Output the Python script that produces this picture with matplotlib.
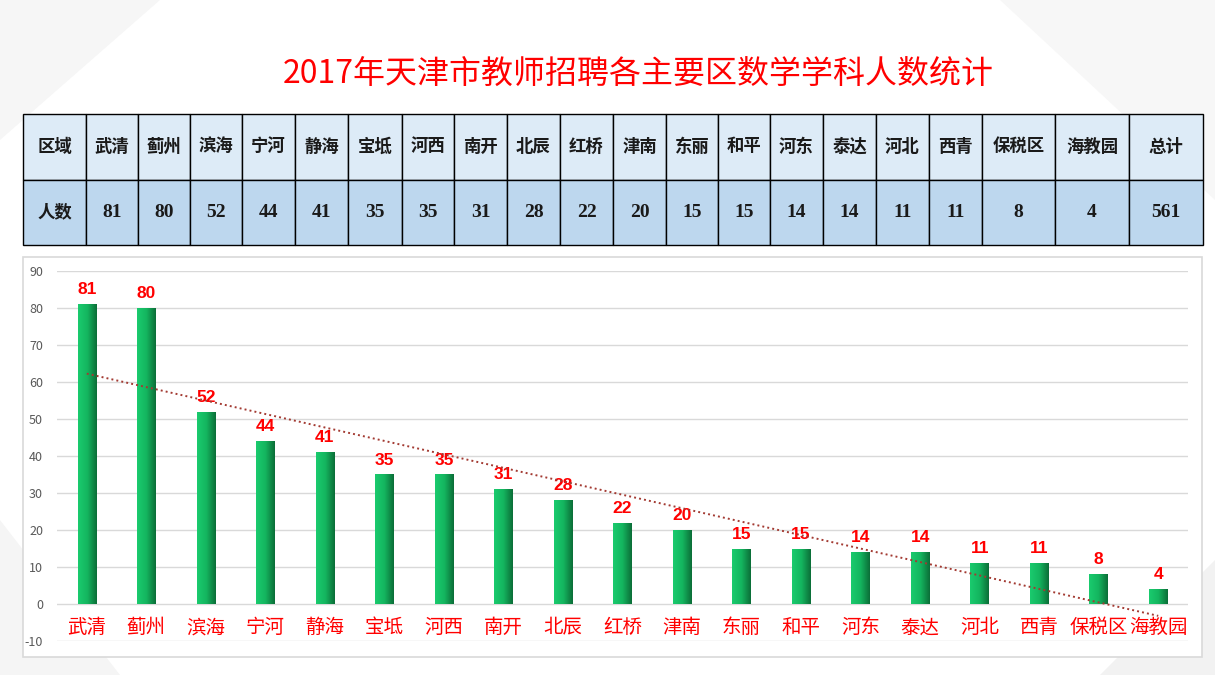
import matplotlib
matplotlib.use('Agg')
import matplotlib.pyplot as plt
import numpy as np
from matplotlib.patches import Rectangle
from matplotlib.colors import LinearSegmentedColormap

plt.rcParams['font.family'] = ['Noto Sans CJK SC', 'DejaVu Sans']
plt.rcParams['axes.unicode_minus'] = False

title = '2017年天津市教师招聘各主要区数学学科人数统计'
districts = ['武清', '蓟州', '滨海', '宁河', '静海', '宝坻', '河西', '南开', '北辰', '红桥',
             '津南', '东丽', '和平', '河东', '泰达', '河北', '西青', '保税区', '海教园']
counts = [81, 80, 52, 44, 41, 35, 35, 31, 28, 22, 20, 15, 15, 14, 14, 11, 11, 8, 4]
y_ticks = list(range(-10, 100, 10))

W, H = 1215, 675
fig = plt.figure(figsize=(W / 100, H / 100), dpi=100)
fig.patch.set_facecolor('white')

# faint background shapes
bg = fig.add_axes([0, 0, 1, 1], zorder=-10)
bg.set_xlim(0, W); bg.set_ylim(H, 0); bg.axis('off')
bg.fill([0, 160, 0], [0, 0, 140], color='#F6F6F6', lw=0, zorder=0)
bg.fill([1000, 1215, 1215], [0, 0, 200], color='#F7F7F7', lw=0, zorder=0)
bg.fill([1215, 1100, 1215], [560, 675, 675], color='#F2F2F2', lw=0, zorder=0)
bg.fill([0, 120, 0], [520, 675, 675], color='#F5F5F5', lw=0, zorder=0)

fig.text(638 / W, 1 - 75 / H, title, ha='center', va='center', fontsize=23, color='#FF0000')

# ---- table ----
col_edges = [23, 86, 138, 190, 242, 295, 348, 402, 454, 507, 560, 613, 666, 718,
             770, 823, 876, 929, 982, 1055, 1129, 1203]
row_edges = [114, 180, 245]
header = ['区域'] + districts + ['总计']
values = ['人数'] + [str(v) for v in counts] + [str(sum(counts))]
tfont = ['Liberation Serif', 'Noto Sans CJK SC']
for r, (row, fc) in enumerate([(header, '#DDEBF7'), (values, '#BDD7EE')]):
    y0, y1 = row_edges[r], row_edges[r + 1]
    for c, txt in enumerate(row):
        x0, x1 = col_edges[c], col_edges[c + 1]
        bg.add_patch(Rectangle((x0, y0), x1 - x0, y1 - y0, facecolor=fc,
                               edgecolor='black', lw=1.0, zorder=2))
        fs = 12.5 if not txt.isdigit() else 14
        bg.text((x0 + x1) / 2, (y0 + y1) / 2, txt, ha='center', va='center',
                fontsize=fs, fontweight='bold', color='#1A1A1A', family=tfont, zorder=3)

# chart frame
bg.add_patch(Rectangle((23, 257), 1179, 400, facecolor='white', edgecolor='#D9D9D9', lw=1.2, zorder=2))

# ---- bar chart ----
ax = fig.add_axes([57 / W, 1 - 641 / H, 1131 / W, 370 / H])
ax.set_facecolor('none')
x = np.arange(len(districts))
ax.yaxis.grid(True, color='#D9D9D9', lw=1)
ax.set_axisbelow(True)
for s in ax.spines.values():
    s.set_visible(False)
ax.set_xticks([])
ax.tick_params(axis='y', length=0, labelsize=9, labelcolor='#595959', pad=10)

grad = np.linspace(0, 1, 64).reshape(1, -1)
cmap = LinearSegmentedColormap.from_list('g', ['#1ACB6E', '#14B55F', '#0B6E38'])
bars = ax.bar(x, counts, width=0.31, color='none', zorder=2)
for b, v in zip(bars, counts):
    bx, bw = b.get_x(), b.get_width()
    im = ax.imshow(grad, cmap=cmap, aspect='auto', extent=[bx, bx + bw, 0, v], zorder=2)
    im.set_clip_path(b)
    ax.annotate(str(v), (bx + bw / 2, v), xytext=(0, 5), textcoords='offset points',
                ha='center', va='bottom', fontsize=12.5, fontweight='bold', color='#FF0000',
                family=['Liberation Sans', 'DejaVu Sans'])
ax.set_yticks(y_ticks)
ax.set_ylim(-10, 90)
ax.set_xlim(-0.5, len(districts) - 0.5)

# linear trendline
k, c0 = np.polyfit(x, counts, 1)
ax.plot(x, k * x + c0, color='#A33A32', lw=1.4, linestyle=(0, (1, 1.6)), zorder=3)

for xi, name in zip(x, districts):
    ax.text(xi, -6.4, name, ha='center', va='center', fontsize=14, color='#FF0000')

fig.savefig('out.png', dpi=100, facecolor='white')
